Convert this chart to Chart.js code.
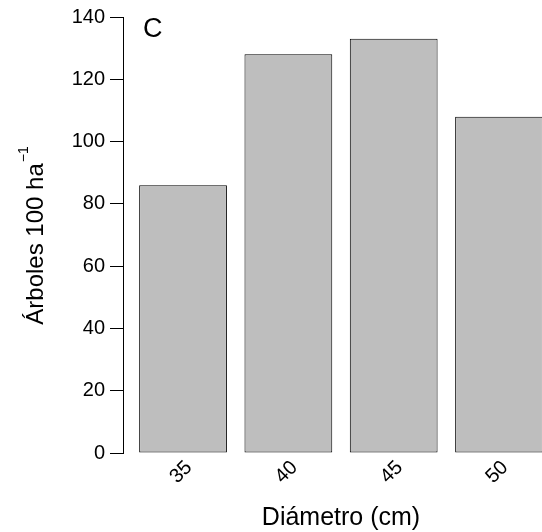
<!DOCTYPE html>
<html lang="es">
<head>
<meta charset="utf-8">
<title>Árboles por clase diamétrica</title>
<script src="https://cdn.jsdelivr.net/npm/chart.js@4/dist/chart.umd.min.js"></script>
<style>
  html, body { margin: 0; padding: 0; background: #ffffff; overflow: hidden; }
  .chart-area { position: relative; width: 542px; height: 532px; }
</style>
</head>
<body>
<div class="chart-area">
  <canvas id="chart" role="img" aria-label="Árboles por 100 ha según clase de diámetro"></canvas>
</div>
<script>
  const diametros = [35, 40, 45, 50];
  const arboles = [86, 128, 133, 108];
  const yTickValues = [0, 20, 40, 60, 80, 100, 120, 140];

  const FONT = "'Liberation Sans', Arial, Helvetica, sans-serif";

  // titles are drawn by hand: R-style superscript and a panel letter
  const axisTitles = {
    id: "axisTitles",
    afterDraw(chart) {
      const ctx = chart.ctx;
      const area = chart.chartArea;
      ctx.save();
      ctx.fillStyle = "#000000";
      ctx.textBaseline = "alphabetic";

      ctx.font = `27px ${FONT}`;
      ctx.textAlign = "left";
      ctx.fillText("C", area.left + 20, 37);

      ctx.font = `25px ${FONT}`;
      ctx.textAlign = "center";
      ctx.fillText("Diámetro (cm)", 341, 525);

      const main = "Árboles 100 ha";
      const sup = "−1";
      ctx.font = `24px ${FONT}`;
      const mainWidth = ctx.measureText(main).width;
      ctx.font = `14px ${FONT}`;
      const supWidth = ctx.measureText(sup).width;
      const total = mainWidth + supWidth;
      ctx.translate(43, 236);
      ctx.rotate(-Math.PI / 2);
      ctx.textAlign = "left";
      ctx.font = `24px ${FONT}`;
      ctx.fillText(main, -total / 2, 0);
      ctx.font = `14px ${FONT}`;
      ctx.fillText(sup, -total / 2 + mainWidth + 1, -15);
      ctx.restore();
    }
  };

  new Chart(document.getElementById("chart"), {
    type: "bar",
    data: {
      datasets: [
        {
          label: "Árboles 100 ha⁻¹",
          data: diametros.map((d, i) => ({ x: d, y: arboles[i] })),
          backgroundColor: "#bebebe",
          borderColor: "#000000",
          borderWidth: 1,
          borderSkipped: false,
          categoryPercentage: 1,
          barPercentage: 1 / 1.2
        }
      ]
    },
    options: {
      responsive: true,
      maintainAspectRatio: false,
      animation: false,
      layout: { padding: { top: 16, right: 0, bottom: 0, left: 0 } },
      plugins: {
        legend: { display: false },
        tooltip: { enabled: false }
      },
      scales: {
        x: {
          type: "linear",
          offset: false,
          min: 32.15,
          max: 52.04,
          grid: { display: false, drawTicks: false },
          border: { display: false },
          afterBuildTicks(scale) {
            scale.ticks = diametros.map((value) => ({ value }));
          },
          afterFit(scale) {
            scale.height = 79;
          },
          ticks: {
            autoSkip: false,
            minRotation: 45,
            maxRotation: 45,
            padding: 3,
            labelOffset: 6,
            color: "#000000",
            font: { family: FONT, size: 20 }
          }
        },
        y: {
          min: 0,
          max: 140,
          afterBuildTicks(scale) {
            scale.ticks = yTickValues.map((value) => ({ value }));
          },
          afterFit(scale) {
            scale.width = 123;
          },
          grid: {
            drawOnChartArea: false,
            drawTicks: true,
            tickLength: 13,
            color: "#000000",
            lineWidth: 1
          },
          border: { display: true, color: "#000000", width: 1 },
          ticks: {
            padding: 5,
            color: "#000000",
            font: { family: FONT, size: 20 }
          }
        }
      }
    },
    plugins: [axisTitles]
  });
</script>
</body>
</html>
